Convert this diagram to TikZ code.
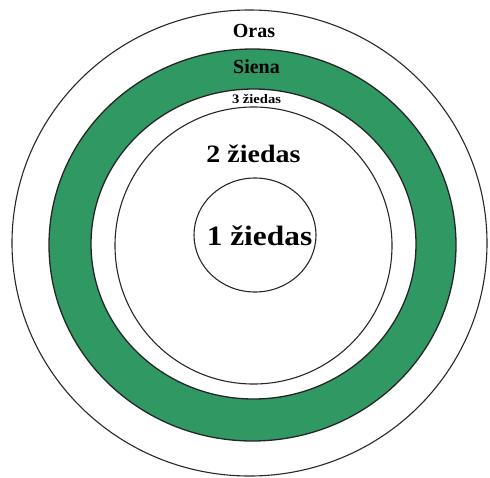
\documentclass[tikz,border=0pt]{standalone}
\usepackage{fontspec}
\setmainfont{Liberation Serif}
\newfontfamily\widefont[FakeStretch=1.12]{Liberation Serif}
\definecolor{ringgreen}{RGB}{48,152,98}
\definecolor{linegray}{RGB}{40,40,40}
\begin{document}
\begin{tikzpicture}[x=1pt,y=-1pt,
  ringline/.style={draw=linegray,line width=1.1pt},
  bandline/.style={draw=black!85,line width=1.3pt},
  lbl/.style={anchor=base,inner sep=0pt,font=\bfseries}]
\useasboundingbox[fill=white] (0,0) rectangle (490,477);
% outer circle (Oras)
\draw[ringline] (249.5,243) ellipse [x radius=237.5pt, y radius=233pt];
% green wall band (Siena)
\fill[ringgreen,even odd rule] (252.5,245) ellipse [x radius=203.5pt, y radius=196pt]
   (253.5,244) ellipse [x radius=162.5pt, y radius=155pt];
\draw[bandline] (252.5,245) ellipse [x radius=203.5pt, y radius=196pt];
\draw[bandline] (253.5,244) ellipse [x radius=162.5pt, y radius=155pt];
% ring 2 boundary
\draw[ringline] (253.5,245.5) ellipse [x radius=138.5pt, y radius=138.5pt];
% inner circle (1 ziedas)
\draw[ringline] (255,235) ellipse [x radius=61pt, y radius=57pt];
% labels
\node[lbl,font=\bfseries\fontsize{20}{22}\selectfont] (oras) at (254,37) {Oras};
\node[lbl,font=\bfseries\fontsize{20}{22}\selectfont] (siena) at (256.5,73) {Siena};
\node[lbl,font=\widefont\bfseries\fontsize{13}{15}\selectfont] (z3) at (256.5,103) {3 žiedas};
\node[lbl,font=\widefont\bfseries\fontsize{25}{28}\selectfont] (z2) at (253.5,162) {2 žiedas};
\node[lbl,font=\widefont\bfseries\fontsize{28}{30}\selectfont] (z1) at (259.5,245) {1 žiedas};
\end{tikzpicture}
\end{document}
